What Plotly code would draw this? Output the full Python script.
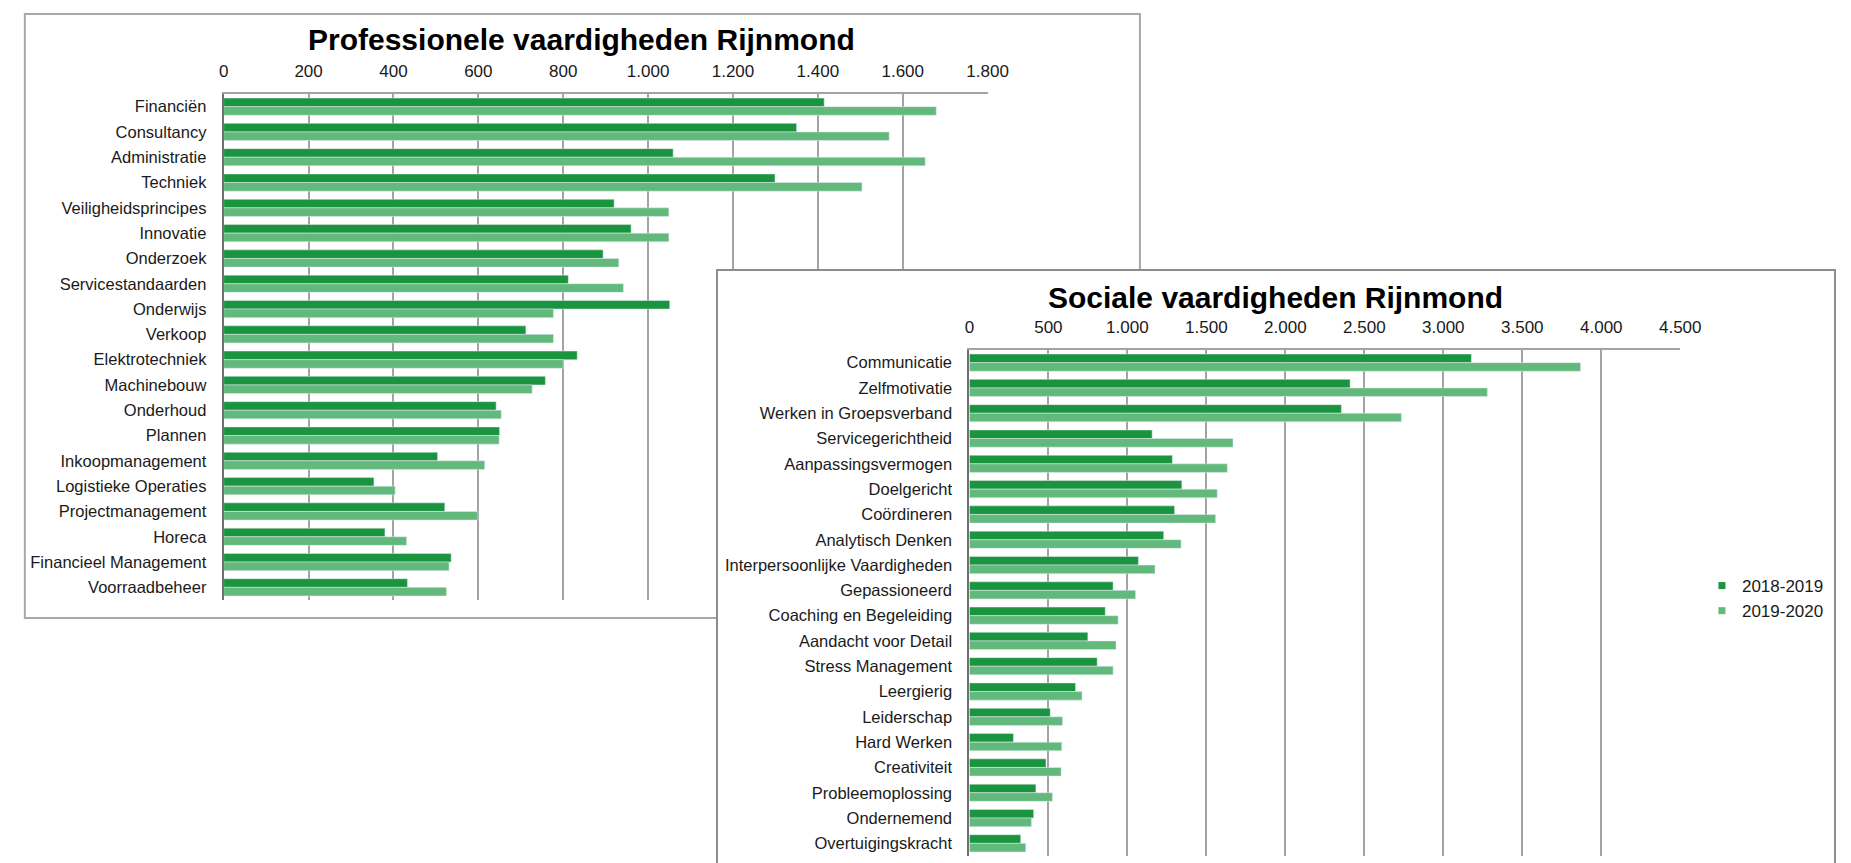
import plotly.graph_objects as go

# Data
prof_categories = ['Financiën', 'Consultancy', 'Administratie', 'Techniek', 'Veiligheidsprincipes',
                   'Innovatie', 'Onderzoek', 'Servicestandaarden', 'Onderwijs', 'Verkoop',
                   'Elektrotechniek', 'Machinebouw', 'Onderhoud', 'Plannen', 'Inkoopmanagement',
                   'Logistieke Operaties', 'Projectmanagement', 'Horeca', 'Financieel Management',
                   'Voorraadbeheer']
prof_2018_2019 = [1415, 1350, 1059, 1299, 920, 960, 894, 812, 1051, 712,
                  833, 758, 642, 650, 504, 354, 521, 380, 536, 433]
prof_2019_2020 = [1679, 1568, 1653, 1504, 1049, 1049, 931, 942, 777, 777,
                  800, 727, 654, 649, 615, 404, 599, 431, 531, 525]

soc_categories = ['Communicatie', 'Zelfmotivatie', 'Werken in Groepsverband', 'Servicegerichtheid',
                  'Aanpassingsvermogen', 'Doelgericht', 'Coördineren', 'Analytisch Denken',
                  'Interpersoonlijke Vaardigheden', 'Gepassioneerd', 'Coaching en Begeleiding',
                  'Aandacht voor Detail', 'Stress Management', 'Leergierig', 'Leiderschap',
                  'Hard Werken', 'Creativiteit', 'Probleemoplossing', 'Ondernemend',
                  'Overtuigingskracht']
soc_2018_2019 = [3178, 2410, 2355, 1157, 1285, 1345, 1299, 1230, 1070, 910,
                 860, 750, 809, 672, 512, 279, 485, 421, 407, 325]
soc_2019_2020 = [3869, 3279, 2735, 1669, 1633, 1569, 1559, 1340, 1175, 1052,
                 942, 928, 910, 713, 590, 585, 581, 526, 393, 357]

prof_ticks = [0, 200, 400, 600, 800, 1000, 1200, 1400, 1600, 1800]
prof_tick_labels = ['0', '200', '400', '600', '800', '1.000', '1.200', '1.400', '1.600', '1.800']
soc_ticks = [0, 500, 1000, 1500, 2000, 2500, 3000, 3500, 4000, 4500]
soc_tick_labels = ['0', '500', '1.000', '1.500', '2.000', '2.500', '3.000', '3.500', '4.000', '4.500']

series_names = ['2018-2019', '2019-2020']
dark_green = '#1b9440'
light_green = '#63b97c'

W, H = 1851, 863
FONT = 'Liberation Sans, Arial, sans-serif'
TXT = '#1a1a1a'
GRID = '#a3a3a3'


def px_x(v):
    return v / W


def px_y(v):
    return 1 - v / H


fig = go.Figure()

# linker grafiek
fig.add_trace(go.Bar(y=prof_categories, x=prof_2018_2019, orientation='h', name=series_names[0],
                     marker_color=dark_green, showlegend=False, xaxis='x', yaxis='y'))
fig.add_trace(go.Bar(y=prof_categories, x=prof_2019_2020, orientation='h', name=series_names[1],
                     marker_color=light_green, showlegend=False, xaxis='x', yaxis='y'))

# lege subplot als "papier" van de rechter grafiek (ligt over de linker)
fig.add_trace(go.Scatter(x=[None], y=[None], xaxis='x2', yaxis='y2', showlegend=False,
                         hoverinfo='skip'))

# rechter grafiek
fig.add_trace(go.Bar(y=soc_categories, x=soc_2018_2019, orientation='h', name=series_names[0],
                     marker_color=dark_green, showlegend=False, xaxis='x3', yaxis='y3'))
fig.add_trace(go.Bar(y=soc_categories, x=soc_2019_2020, orientation='h', name=series_names[1],
                     marker_color=light_green, showlegend=False, xaxis='x3', yaxis='y3'))

# legenda
for name, col in zip(series_names, [dark_green, light_green]):
    fig.add_trace(go.Scatter(x=[None], y=[None], mode='markers', name=name,
                             marker=dict(symbol='square', size=7, color=col),
                             xaxis='x3', yaxis='y3'))

xcommon = dict(side='top', showline=True, linecolor=GRID, linewidth=2, showgrid=True,
               gridcolor=GRID, gridwidth=1.5, zeroline=False, ticks='', ticklabelstandoff=8,
               tickfont=dict(size=17, color=TXT, family=FONT), fixedrange=True)
ycommon = dict(type='category', autorange='reversed', showline=True, linecolor='#707070',
               linewidth=2, showgrid=False, zeroline=False, ticks='', ticklabelstandoff=12,
               tickfont=dict(size=16.5, color=TXT, family=FONT), fixedrange=True)

fig.update_layout(
    width=W, height=H,
    margin=dict(l=0, r=0, t=0, b=0),
    paper_bgcolor='white', plot_bgcolor='rgba(0,0,0,0)',
    barmode='group', bargap=0.32, bargroupgap=0,
    font=dict(family=FONT, color=TXT),
    xaxis=dict(xcommon, domain=[px_x(213.7), px_x(988.5)], range=[0, 1800],
               tickvals=prof_ticks, ticktext=prof_tick_labels, anchor='y'),
    yaxis=dict(ycommon, domain=[px_y(592), px_y(86)], anchor='x'),
    xaxis2=dict(domain=[px_x(713), px_x(1849)], range=[0, 1], visible=False, anchor='y2',
                fixedrange=True),
    yaxis2=dict(domain=[0, px_y(261)], range=[0, 1], visible=False, anchor='x2',
                fixedrange=True),
    xaxis3=dict(xcommon, domain=[px_x(970), px_x(1691)], range=[0, 4500],
                tickvals=soc_ticks, ticktext=soc_tick_labels, anchor='y3'),
    yaxis3=dict(ycommon, domain=[px_y(848), px_y(342)], anchor='x3'),
    legend=dict(x=px_x(1713), y=px_y(560), xanchor='left', yanchor='top',
                font=dict(size=17, color=TXT, family=FONT), bgcolor='rgba(0,0,0,0)',
                itemwidth=30, tracegroupgap=0),
    showlegend=True,
    shapes=[
        # kader linker grafiek
        dict(type='rect', xref='paper', yref='paper', layer='below',
             x0=px_x(12), x1=px_x(1143), y0=px_y(610), y1=px_y(6),
             line=dict(color='#a8a8a8', width=2), fillcolor='white'),
        # kader rechter grafiek, getekend in subplot x2y2 zodat het over de linker ligt
        dict(type='rect', xref='x2', yref='y2', layer='below',
             x0=0, x1=1, y0=-0.1, y1=1,
             line=dict(color='#8c8c8c', width=4), fillcolor='white'),
    ],
    annotations=[
        dict(text='<b>Professionele vaardigheden Rijnmond</b>', xref='paper', yref='paper',
             x=px_x(577), y=px_y(32), xanchor='center', yanchor='middle', showarrow=False,
             font=dict(size=30, color='black', family=FONT)),
        dict(text='<b>Sociale vaardigheden Rijnmond</b>', xref='paper', yref='paper',
             x=px_x(1280), y=px_y(289), xanchor='center', yanchor='middle', showarrow=False,
             font=dict(size=30, color='black', family=FONT)),
    ],
)

fig.write_html('out.html')
